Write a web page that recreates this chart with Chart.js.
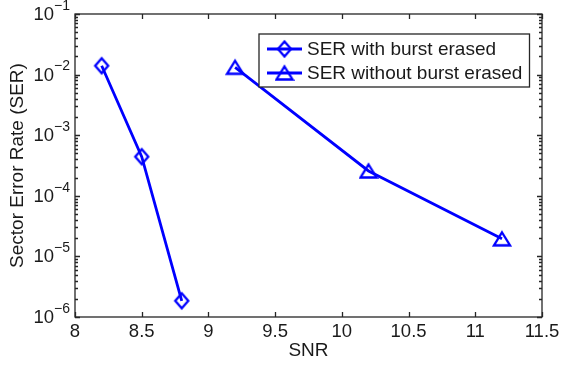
<!DOCTYPE html>
<html>
<head>
<meta charset="utf-8">
<script src="https://cdn.jsdelivr.net/npm/chart.js@4/dist/chart.umd.min.js"></script>
<style>
  html, body { margin: 0; padding: 0; background: #fff; }
</style>
</head>
<body>
<canvas id="ser-chart" width="561" height="366"></canvas>
<script>
// SNR vs sector error rate, two decoding modes
const seriesLabels = ['SER with burst erased', 'SER without burst erased'];
const snrErased = [8.2, 8.5, 8.8];
const serErased = [1.4e-2, 4.43e-4, 1.85e-6];
const snrNotErased = [9.2, 10.2, 11.2];
const serNotErased = [1.32e-2, 2.57e-4, 1.95e-5];
const xTickValues = [8, 8.5, 9, 9.5, 10, 10.5, 11, 11.5];
const yExponents = [-1, -2, -3, -4, -5, -6];

const BLUE = '#0000ff';
const AXIS = '#262626';
const FONT = '"Liberation Sans", Arial, sans-serif';

// marker sprites, centred on their bounding box
function makeMarker(kind) {
  const c = document.createElement('canvas');
  c.width = 20; c.height = 20;
  const g = c.getContext('2d');
  g.strokeStyle = BLUE;
  g.lineWidth = 2.3;
  g.beginPath();
  if (kind === 'diamond') {
    g.moveTo(10, 2.5); g.lineTo(16.5, 10); g.lineTo(10, 17.5); g.lineTo(3.5, 10);
  } else {
    g.moveTo(10, 3.5); g.lineTo(18, 16.5); g.lineTo(2, 16.5);
  }
  g.closePath();
  g.stroke();
  return c;
}
const diamond = makeMarker('diamond');
const triangle = makeMarker('triangle');

const toPoints = (xs, ys) => xs.map((x, i) => ({ x: x, y: ys[i] }));

// axes frame, inward ticks, labels and the boxed legend
const matlabAxes = {
  id: 'matlabAxes',
  beforeDatasetsDraw(chart) {
    const { ctx, chartArea: a, scales: { x, y } } = chart;
    ctx.save();
    ctx.strokeStyle = AXIS;
    ctx.lineWidth = 1.3;
    ctx.strokeRect(a.left, a.top, a.right - a.left, a.bottom - a.top);

    ctx.beginPath();
    xTickValues.forEach(v => {
      const px = Math.round(x.getPixelForValue(v)) + 0.5;
      ctx.moveTo(px, a.bottom); ctx.lineTo(px, a.bottom - 5);
      ctx.moveTo(px, a.top); ctx.lineTo(px, a.top + 5);
    });
    yExponents.forEach(e => {
      const py = Math.round(y.getPixelForValue(Math.pow(10, e))) + 0.5;
      ctx.moveTo(a.left, py); ctx.lineTo(a.left + 5, py);
      ctx.moveTo(a.right, py); ctx.lineTo(a.right - 5, py);
      if (e > -6) {
        for (let m = 2; m <= 9; m++) {
          const pm = Math.round(y.getPixelForValue(m * Math.pow(10, e - 1))) + 0.5;
          ctx.moveTo(a.left, pm); ctx.lineTo(a.left + 3, pm);
          ctx.moveTo(a.right, pm); ctx.lineTo(a.right - 3, pm);
        }
      }
    });
    ctx.stroke();

    ctx.fillStyle = '#1a1a1a';
    ctx.font = '18.5px ' + FONT;
    ctx.textAlign = 'center';
    ctx.textBaseline = 'middle';
    xTickValues.forEach(v => ctx.fillText(String(v), x.getPixelForValue(v), a.bottom + 15));

    yExponents.forEach(e => {
      const py = y.getPixelForValue(Math.pow(10, e));
      const sup = '\u2212' + Math.abs(e);
      ctx.font = '14px ' + FONT;
      const wSup = ctx.measureText(sup).width;
      ctx.textAlign = 'left';
      ctx.fillText(sup, a.left - 5 - wSup, py - 8);
      ctx.font = '18.5px ' + FONT;
      ctx.textAlign = 'right';
      ctx.fillText('10', a.left - 5 - wSup, py + 1);
    });

    ctx.font = '19px ' + FONT;
    ctx.textAlign = 'center';
    ctx.fillText('SNR', (a.left + a.right) / 2, a.bottom + 34);
    ctx.translate(18, (a.top + a.bottom) / 2);
    ctx.rotate(-Math.PI / 2);
    ctx.fillText('Sector Error Rate (SER)', 0, 0);
    ctx.restore();
  },
  afterDraw(chart) {
    const { ctx, chartArea: a } = chart;
    const box = { x: 259, y: 34, w: a.right - 259 - 12.5, h: 53 };
    ctx.save();
    ctx.fillStyle = '#fff';
    ctx.fillRect(box.x, box.y, box.w, box.h);
    ctx.strokeStyle = AXIS;
    ctx.lineWidth = 1.3;
    ctx.strokeRect(box.x, box.y, box.w, box.h);
    const markers = [diamond, triangle];
    chart.data.datasets.forEach((ds, i) => {
      const cy = box.y + 15 + i * 24;
      ctx.strokeStyle = BLUE;
      ctx.lineWidth = 2.8;
      ctx.beginPath();
      ctx.moveTo(box.x + 8, cy); ctx.lineTo(box.x + 43, cy);
      ctx.stroke();
      ctx.drawImage(markers[i], box.x + 25.5 - 10, cy - 10);
      ctx.fillStyle = '#1a1a1a';
      ctx.font = '19px ' + FONT;
      ctx.textAlign = 'left';
      ctx.textBaseline = 'middle';
      ctx.fillText(ds.label, box.x + 48, cy + 1);
    });
    ctx.restore();
  }
};

new Chart(document.getElementById('ser-chart'), {
  type: 'line',
  data: {
    datasets: [
      {
        label: seriesLabels[0],
        data: toPoints(snrErased, serErased),
        borderColor: BLUE,
        borderWidth: 2.8,
        pointStyle: diamond,
        pointRadius: 7,
        fill: false,
        tension: 0
      },
      {
        label: seriesLabels[1],
        data: toPoints(snrNotErased, serNotErased),
        borderColor: BLUE,
        borderWidth: 2.8,
        pointStyle: triangle,
        pointRadius: 8,
        fill: false,
        tension: 0
      }
    ]
  },
  options: {
    responsive: false,
    animation: false,
    devicePixelRatio: 1,
    layout: { padding: { left: 75, top: 14, right: 19, bottom: 49 } },
    plugins: { legend: { display: false }, tooltip: { enabled: false } },
    scales: {
      x: {
        type: 'linear',
        min: 8,
        max: 11.5,
        grid: { display: false, drawTicks: false },
        border: { display: false },
        ticks: { display: false }
      },
      y: {
        type: 'logarithmic',
        min: 1e-6,
        max: 1e-1,
        grid: { display: false, drawTicks: false },
        border: { display: false },
        ticks: { display: false }
      }
    }
  },
  plugins: [matlabAxes]
});
</script>
</body>
</html>
